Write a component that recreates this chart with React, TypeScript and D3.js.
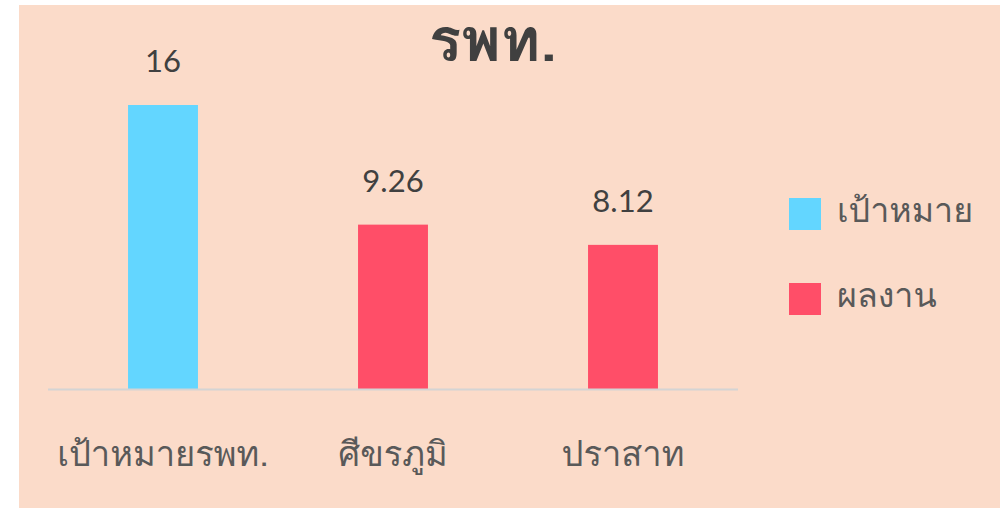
import React from 'react';
import * as d3 from 'd3';

const categories = ['เป้าหมายรพท.', 'ศีขรภูมิ', 'ปราสาท'];
const values = [16, 9.26, 8.12];
const seriesOf = ['เป้าหมาย', 'ผลงาน', 'ผลงาน'];
const legendItems = ['เป้าหมาย', 'ผลงาน'];
const title = 'รพท.';

const W = 1003;
const H = 508;
const FONT = 'Loma, Garuda, "Noto Sans Thai Looped", "Noto Sans Thai", "Noto Sans", sans-serif';
const NUM_FONT = 'Lato, "Open Sans", sans-serif';

const colour = d3.scaleOrdinal<string, string>().domain(legendItems).range(['#63D6FF', '#FF4E68']);

export default function App() {
  const x = d3.scaleBand().domain(categories).range([48, 738]).padding(0);
  const y = d3.scaleLinear().domain([0, 16]).range([389, 105]);
  const barW = x.bandwidth() * 0.304;

  return (
    <svg width={W} height={H} style={{ position: 'absolute', left: 0, top: 0 }}>
      <rect x={19} y={5} width={981} height={H - 5} fill="#FBDBC9" />
      <text x={493} y={61} textAnchor="middle" fontFamily={FONT} fontWeight="bold" fontSize={60} fill="#404040">
        {title}
      </text>
      {categories.map((c, i) => {
        const cx = (x(c) ?? 0) + x.bandwidth() / 2;
        return (
          <g key={c}>
            <rect x={cx - barW / 2} y={y(values[i])} width={barW} height={y(0) - y(values[i])} fill={colour(seriesOf[i])} />
            <text x={cx} y={y(values[i]) - 33} textAnchor="middle" fontFamily={NUM_FONT} fontSize={31} fill="#404040">
              {values[i]}
            </text>
            <text x={cx} y={466} textAnchor="middle" fontFamily={FONT} fontSize={34.5} fill="#595959">
              {c}
            </text>
          </g>
        );
      })}
      <line x1={48} x2={738} y1={389.5} y2={389.5} stroke="#D4D4D4" strokeWidth={2} />
      {legendItems.map((s, i) => (
        <g key={s} transform={`translate(789, ${198 + i * 85})`}>
          <rect width={32} height={32} fill={colour(s)} />
          <text x={48} y={24} fontFamily={FONT} fontSize={34} fill="#595959">
            {s}
          </text>
        </g>
      ))}
    </svg>
  );
}
